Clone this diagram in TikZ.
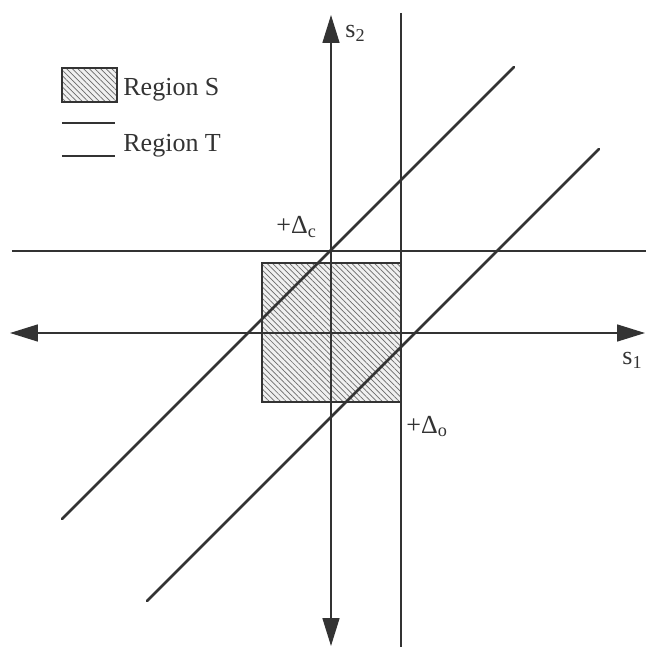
\documentclass[tikz,border=0pt]{standalone}
\usepackage{fontspec}
\setmainfont{Liberation Serif}
\usepackage{xcolor}
\usetikzlibrary{arrows.meta, patterns.meta}
\definecolor{ink}{HTML}{333333}
\definecolor{hatch}{HTML}{6A6A6A}

\begin{document}
\begin{tikzpicture}[
    x=0.5pt, y=0.5pt,
    font=\fontsize{13}{15}\selectfont,
    axis/.style={{Triangle[length=14pt,width=8.5pt]}-{Triangle[length=14pt,width=8.5pt]},
                 draw=ink, fill=ink, line width=0.8pt},
    bound/.style={draw=ink, line width=0.6pt},
    band/.style={draw=ink, line width=1.3pt, line cap=round},
    regionS/.style={draw=ink, line width=0.7pt, preaction={fill=gray!12},
                    pattern={Lines[angle=-45, distance=2pt, line width=0.35pt]},
                    pattern color=hatch},
    lbl/.style={text=ink, inner sep=1pt, anchor=base west},
  ]
  \useasboundingbox (-331,-314) rectangle (315,333);
  % region S
  \draw[regionS] (-69,-69) rectangle (70,70);
  % axes
  \coordinate (w) at (-321,0);
  \coordinate (e) at (314,0);
  \coordinate (n) at (0,318);
  \coordinate (s) at (0,-313);
  \draw[axis] (w) -- (e);
  \draw[axis] (s) -- (n);
  % thresholds
  \draw[bound] (-319,82) -- (315,82);
  \draw[bound] (70,320) -- (70,-314);
  % region T
  \draw[band] (-269,-186) -- (183,266);
  \draw[band] (-184,-268) -- (268,184);
  \node[lbl] (s2) at (12,295) {s\textsubscript{2}};
  \node[lbl] (s1) at (289,-32) {s\textsubscript{1}};
  \node[lbl] (dc) at (-57,99) {+Δ\textsubscript{c}};
  \node[lbl] (do) at (73,-100) {+Δ\textsubscript{o}};
  % legend
  \draw[regionS] (-269,231) rectangle (-214,265);
  \node[lbl] (keyS) at (-210,237) {Region S};
  \draw[band, line cap=butt] (-269,210) -- (-216,210);
  \draw[band, line cap=butt] (-269,177) -- (-216,177);
  \node[lbl] (keyT) at (-210,181) {Region T};
\end{tikzpicture}
\end{document}
